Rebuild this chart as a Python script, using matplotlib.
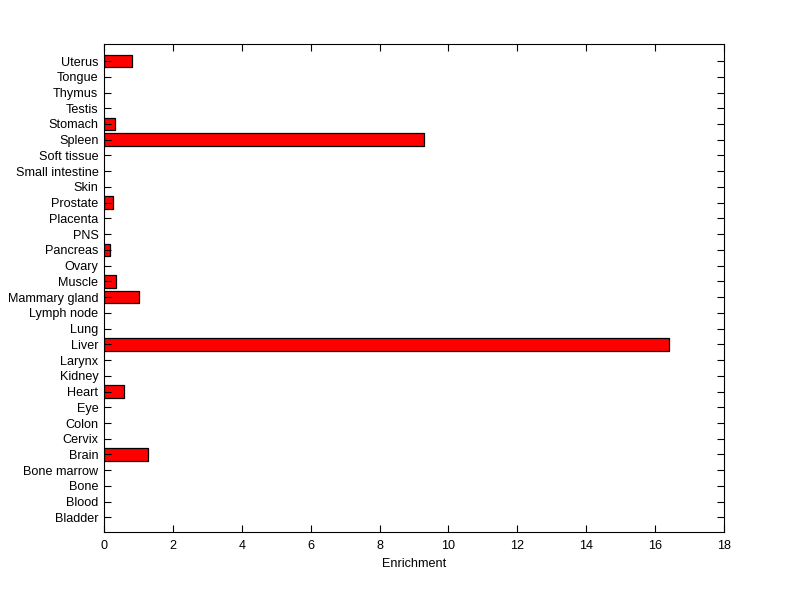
import numpy as np
import matplotlib
matplotlib.use('Agg')
import matplotlib.pyplot as plt

TISSUES = ['Bladder', 'Blood', 'Bone', 'Bone marrow', 'Brain', 'Cervix', 'Colon',
           'Eye', 'Heart', 'Kidney', 'Larynx', 'Liver', 'Lung', 'Lymph node',
           'Mammary gland', 'Muscle', 'Ovary', 'Pancreas', 'PNS', 'Placenta',
           'Prostate', 'Skin', 'Small intestine', 'Soft tissue', 'Spleen',
           'Stomach', 'Testis', 'Thymus', 'Tongue', 'Uterus']
ENRICHMENT = [0, 0, 0, 0, 1.28, 0, 0,
              0, 0.58, 0, 0, 16.40, 0, 0,
              1.02, 0.35, 0, 0.17, 0, 0,
              0.26, 0, 0, 0, 9.29,
              0.32, 0, 0, 0, 0.80]
XTICKS = [0, 2, 4, 6, 8, 10, 12, 14, 16, 18]

plt.rcParams['font.family'] = ['Liberation Sans', 'DejaVu Sans']

fig = plt.figure(figsize=(8, 5.99), dpi=100)
ax = fig.add_axes([0.13, 0.112, 0.775, 0.8145])

pos = np.arange(1, len(TISSUES) + 1)
vals = np.asarray(ENRICHMENT)
nz = vals > 0
ax.barh(pos[nz], vals[nz], height=0.8, color='#ff0000', edgecolor='black', linewidth=0.9)

ax.set_xlim(0, 18)
ax.set_ylim(0.08, len(TISSUES) + 1.08)
ax.set_xticks(XTICKS)
ax.set_yticks(pos)
ax.set_yticklabels(TISSUES)
ax.tick_params(axis='both', direction='in', length=5, width=0.8, labelsize=9.1,
               top=True, right=True)
ax.tick_params(axis='x', pad=6)
ax.tick_params(axis='y', pad=4)
for s in ax.spines.values():
    s.set_linewidth(0.8)
ax.set_xlabel('Enrichment', fontsize=9.1, labelpad=4)

fig.savefig('out.png', dpi=100)
